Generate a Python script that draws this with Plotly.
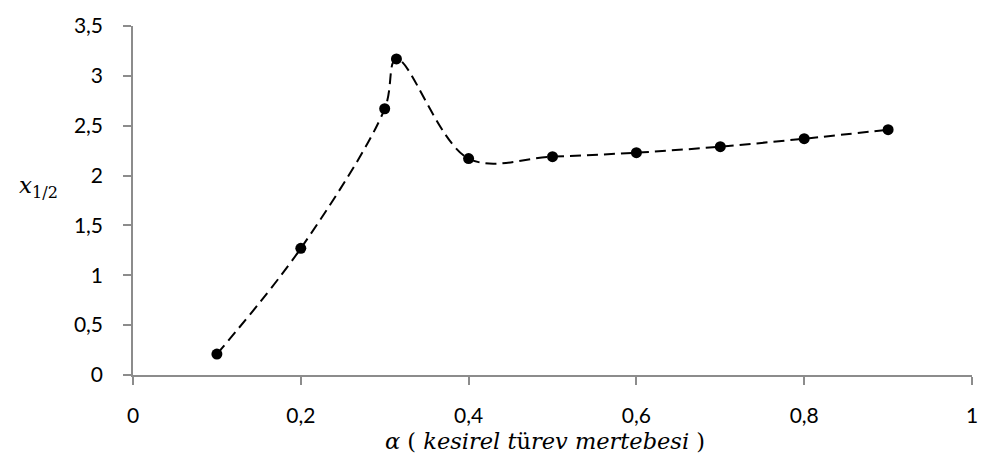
import plotly.graph_objects as go

alpha = [0.1, 0.2, 0.3, 0.314, 0.4, 0.5, 0.6, 0.7, 0.8, 0.9]
x_half = [0.21, 1.27, 2.67, 3.17, 2.17, 2.19, 2.23, 2.29, 2.37, 2.46]

x_ticks = [0, 0.2, 0.4, 0.6, 0.8, 1]
x_tick_labels = ["0", "0,2", "0,4", "0,6", "0,8", "1"]
y_ticks = [0, 0.5, 1, 1.5, 2, 2.5, 3, 3.5]
y_tick_labels = ["0", "0,5", "1", "1,5", "2", "2,5", "3", "3,5"]

fig = go.Figure()
fig.add_trace(go.Scatter(
    x=alpha, y=x_half, mode="lines+markers",
    line=dict(color="black", width=2, dash="11px,6px", shape="spline", smoothing=1),
    marker=dict(color="black", size=11),
    showlegend=False,
))

axis_common = dict(
    showgrid=False, zeroline=False, showline=True, linecolor="#8c8c8c", linewidth=1.5,
    ticks="outside", ticklen=8, tickcolor="#8c8c8c", tickwidth=1.5,
    tickfont=dict(family="Lato, Open Sans, sans-serif", size=21, color="black"),
)

fig.update_xaxes(range=[0, 1], tickvals=x_ticks, ticktext=x_tick_labels,
                 ticklabelstandoff=13, **axis_common)
fig.update_yaxes(range=[0, 3.5], tickvals=y_ticks, ticktext=y_tick_labels,
                 ticklabelstandoff=16, **axis_common)

fig.add_annotation(
    text="<i>x</i><sub>1/2</sub>", xref="paper", yref="paper",
    x=-0.087, y=0.54, xanchor="right", yanchor="middle", showarrow=False,
    font=dict(family="DejaVu Serif, serif", size=23, color="black"),
)
fig.add_annotation(
    text="<i>α</i> ( <i>kesirel t</i>ü<i>rev mertebesi</i> )", xref="paper", yref="paper",
    x=0.491, y=-0.145, xanchor="center", yanchor="top", showarrow=False,
    font=dict(family="DejaVu Serif, serif", size=22.5, color="black"),
)

fig.update_layout(
    width=990, height=468,
    margin=dict(l=133, r=18, t=20, b=93),
    plot_bgcolor="white", paper_bgcolor="white",
)

fig.write_html("out.html", config={"displayModeBar": False},
               post_script="document.body.style.margin='0';document.body.style.overflow='hidden';")
